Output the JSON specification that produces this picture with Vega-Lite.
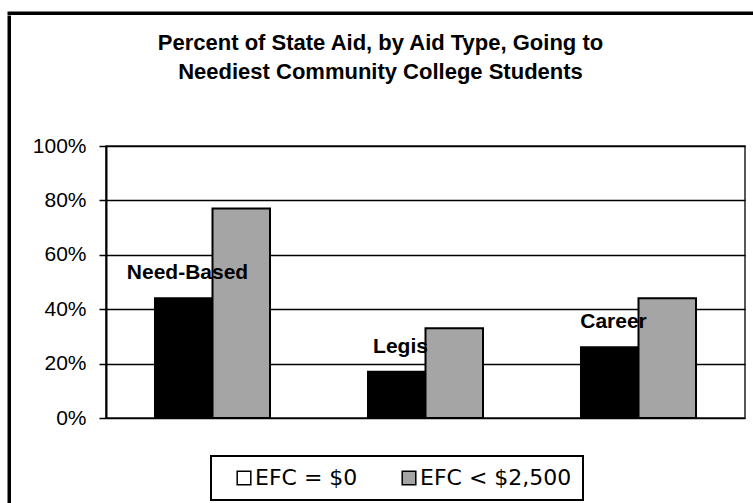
{
  "$schema": "https://vega.github.io/schema/vega-lite/v6.json",
  "padding": {"left": 7, "top": 11, "right": 0, "bottom": 0},
  "background": "white",
  "config": {"font": "Liberation Sans", "legend": {"strokeWidth": 2}},
  "spacing": 0,
  "vconcat": [
    {
      "width": 746,
      "height": 0.5,
      "view": {"stroke": "black", "strokeWidth": 3},
      "data": {"values": []},
      "mark": "rule",
      "encoding": {}
    },
    {
      "spacing": 0,
      "hconcat": [
        {
          "width": 0.5,
          "height": 490,
          "view": {"stroke": "black", "strokeWidth": 3},
          "data": {"values": []},
          "mark": "rule",
          "encoding": {}
        },
        {
          "spacing": 13,
          "vconcat": [
            {
              "width": 1,
              "height": 0.5,
              "view": {"stroke": null},
              "data": {"values": []},
              "mark": "rule",
              "encoding": {}
            },
            {
              "width": 639,
              "height": 272,
              "view": {"stroke": "#222222", "strokeWidth": 1.5},
              "title": {
                "text": ["Percent of State Aid, by Aid Type, Going to", "Neediest Community College Students"],
                "font": "Liberation Sans",
                "fontSize": 22,
                "fontWeight": "bold",
                "lineHeight": 29,
                "color": "black",
                "anchor": "middle",
                "offset": 51,
                "dx": -45
              },
              "data": {
                "values": [
                  {"type": "Need-Based", "series": "EFC = $0", "value": 0.44},
                  {"type": "Need-Based", "series": "EFC < $2,500", "value": 0.77},
                  {"type": "Legis", "series": "EFC = $0", "value": 0.17},
                  {"type": "Legis", "series": "EFC < $2,500", "value": 0.33},
                  {"type": "Career", "series": "EFC = $0", "value": 0.26},
                  {"type": "Career", "series": "EFC < $2,500", "value": 0.44}
                ]
              },
              "encoding": {
                "x": {
                  "field": "type",
                  "type": "nominal",
                  "sort": ["Need-Based", "Legis", "Career"],
                  "scale": {"paddingInner": 0.46, "paddingOuter": 0.23},
                  "axis": null
                },
                "y": {
                  "field": "value",
                  "type": "quantitative",
                  "scale": {"domain": [0, 1]},
                  "axis": {
                    "title": null,
                    "values": [0, 0.2, 0.4, 0.6, 0.8, 1],
                    "format": ".0%",
                    "labelFont": "Liberation Sans",
                    "labelFontSize": 21,
                    "labelColor": "black",
                    "labelPadding": 13,
                    "tickColor": "black",
                    "tickSize": 7,
                    "tickWidth": 1.5,
                    "domainColor": "black",
                    "domainWidth": 2,
                    "grid": true,
                    "gridColor": "black",
                    "gridWidth": 1.5,
                    "minExtent": 94
                  }
                }
              },
              "layer": [
                {
                  "mark": {"type": "bar", "opacity": 0, "stroke": "black", "strokeWidth": 1.5},
                  "encoding": {
                    "xOffset": {"field": "series", "type": "nominal", "sort": ["EFC = $0", "EFC < $2,500"]},
                    "fill": {
                      "field": "series",
                      "type": "nominal",
                      "scale": {"domain": ["EFC = $0", "EFC < $2,500"], "range": ["#ffffff", "#a5a5a5"]},
                      "legend": {
                        "orient": "none",
                        "legendX": 202,
                        "legendY": 443,
                        "direction": "horizontal",
                        "title": null,
                        "labelFont": "DejaVu Sans",
                        "labelFontSize": 22,
                        "labelColor": "black",
                        "labelOffset": 0,
                        "symbolType": "square",
                        "symbolSize": 185,
                        "symbolOffset": 11,
                        "symbolOpacity": 1,
                        "symbolStrokeColor": "black",
                        "symbolStrokeWidth": 1.5,
                        "columnPadding": 29,
                        "padding": 11,
                        "strokeColor": "black"
                      }
                    }
                  }
                },
                {
                  "mark": {"type": "bar", "stroke": "black", "strokeWidth": 2},
                  "encoding": {
                    "xOffset": {"field": "series", "type": "nominal", "sort": ["EFC = $0", "EFC < $2,500"]},
                    "color": {
                      "field": "series",
                      "type": "nominal",
                      "scale": {"domain": ["EFC = $0", "EFC < $2,500"], "range": ["#000000", "#a5a5a5"]},
                      "legend": null
                    }
                  }
                },
                {
                  "transform": [{"filter": "datum.series === 'EFC = $0'"}],
                  "mark": {"type": "text", "font": "Liberation Sans", "fontWeight": "bold", "fontSize": 21, "dx": -25, "dy": -25, "color": "black", "baseline": "middle"},
                  "encoding": {
                    "text": {"field": "type", "type": "nominal"}
                  }
                }
              ]
            }
          ]
        }
      ]
    }
  ]
}
